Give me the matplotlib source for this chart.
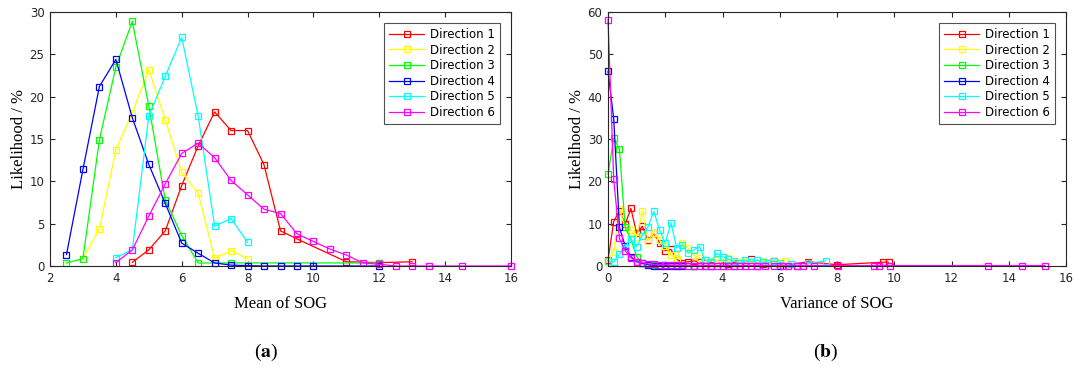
import matplotlib.pyplot as plt

plt.rcParams['mathtext.fontset'] = 'stix'

# (a) Mean of SOG
mean_x = {
    1: [4.5, 5, 5.5, 6, 6.5, 7, 7.5, 8, 8.5, 9, 9.5, 11, 12, 13],
    2: [3, 3.5, 4, 4.5, 5, 5.5, 6, 6.5, 7, 7.5, 8],
    3: [2.5, 3, 3.5, 4, 4.5, 5, 5.5, 6, 6.5, 7.5, 12],
    4: [2.5, 3, 3.5, 4, 4.5, 5, 5.5, 6, 6.5, 7, 7.5, 8, 8.5, 9, 9.5, 10, 12],
    5: [4, 4.5, 5, 5.5, 6, 6.5, 7, 7.5, 8],
    6: [4, 4.5, 5, 5.5, 6, 6.5, 7, 7.5, 8, 8.5, 9, 9.5, 10, 10.5, 11, 11.5, 12, 12.5, 13, 13.5, 14.5, 16],
}
mean_y = {
    1: [0.44, 1.9, 4.15, 9.5, 14.2, 18.2, 16.0, 16.0, 11.95, 4.15, 3.2, 0.5, 0.4, 0.5],
    2: [0.87, 4.35, 13.7, 18.1, 23.2, 17.25, 11.1, 8.6, 0.9, 1.8, 0.87],
    3: [0.36, 0.87, 14.9, 23.5, 28.9, 18.9, 7.8, 3.6, 0.36, 0.36, 0.36],
    4: [1.35, 11.4, 21.2, 24.4, 17.5, 12.0, 7.4, 2.7, 1.5, 0.36, 0.1, 0.05, 0, 0, 0, 0, 0],
    5: [1.0, 1.9, 17.7, 22.4, 27.0, 17.7, 4.7, 5.6, 2.8],
    6: [0.4, 1.9, 5.9, 9.7, 13.3, 14.5, 12.8, 10.1, 8.4, 6.7, 6.2, 3.8, 2.9, 2.0, 1.3, 0.36, 0.2, 0, 0, 0, 0, 0],
}

# (b) Variance of SOG
var_x = {
    1: [0, 0.2, 0.4, 0.6, 0.8, 1.0, 1.2, 1.4, 1.6, 1.8, 2.0, 2.2, 2.4, 2.6, 2.8, 3.0, 3.2, 3.4, 3.6,
        3.8, 4.0, 4.2, 4.4, 4.6, 4.8, 5.0, 5.2, 5.4, 5.6, 5.8, 6.0, 6.4, 7.0, 8.0, 9.6, 9.8],
    2: [0, 0.2, 0.4, 0.6, 0.8, 1.0, 1.2, 1.4, 1.6, 1.8, 2.0, 2.2, 2.4, 2.6, 2.8, 3.0, 3.2, 3.4, 3.6,
        3.8, 4.0, 4.2, 4.4, 4.6, 4.8, 5.0, 5.2, 5.4, 5.6, 5.8, 6.0, 6.2],
    3: [0, 0.2, 0.4, 0.6, 0.8, 1.0, 1.2, 1.4, 1.6, 1.8, 2.0, 2.2, 2.4, 2.6, 2.8, 3.0, 3.4, 4.0],
    4: [0, 0.2, 0.4, 0.6, 0.8, 1.0, 1.2, 1.4, 1.6, 1.8, 2.0, 2.2, 2.4, 2.6, 3.0, 3.6, 4.4, 5.2, 6.0, 6.6],
    5: [0, 0.2, 0.4, 0.6, 0.8, 1.0, 1.2, 1.4, 1.6, 1.8, 2.0, 2.2, 2.4, 2.6, 2.8, 3.0, 3.2, 3.4, 3.6,
        3.8, 4.0, 4.2, 4.4, 4.6, 4.8, 5.0, 5.2, 5.4, 5.6, 5.8, 6.0, 6.4, 7.0, 7.6],
    6: [0, 0.2, 0.4, 0.6, 0.8, 1.0, 1.2, 1.4, 1.6, 1.8, 2.0, 2.2, 2.4, 2.6, 2.8, 3.0, 3.2, 3.4, 3.6,
        3.8, 4.0, 4.2, 4.4, 4.6, 4.8, 5.0, 5.2, 5.5, 5.8, 6.1, 6.3, 6.6, 6.8, 7.2, 8.05, 9.28, 9.45,
        9.86, 13.27, 14.46, 15.27],
}
var_y = {
    1: [1.4, 10.5, 13.1, 9.9, 13.6, 7.7, 9.4, 6.1, 7.7, 5.5, 3.6, 3.9, 1.6, 0.8, 1.0, 1.2, 1.0, 0.6,
        0.8, 0.6, 0.7, 0.5, 0.8, 0.6, 0.9, 1.6, 0.6, 0.5, 0.7, 1.2, 0.5, 0.4, 1.0, 0.3, 0.9, 0.9],
    2: [1.0, 3.4, 13.4, 9.1, 8.5, 6.8, 12.9, 6.0, 7.9, 6.1, 4.7, 2.6, 1.6, 5.4, 4.2, 2.5, 1.8, 1.5,
        1.2, 1.3, 1.0, 1.8, 1.2, 0.9, 1.0, 0.8, 0.7, 1.2, 0.6, 0.8, 0.5, 1.2],
    3: [21.7, 30.2, 27.6, 9.1, 6.3, 2.2, 0.6, 0.3, 0.3, 0.2, 0.2, 0.2, 0.1, 0.2, 0.1, 0.1, 0.1, 0.1],
    4: [46.0, 34.8, 9.1, 4.7, 2.2, 1.0, 0.6, 0.3, 0.1, 0.0, 0.1, 0.0, 0.0, 0.1, 0.1, 0.0, 0.0, 0.0,
        0.0, 0.0],
    5: [1.2, 0.9, 2.8, 4.6, 6.4, 4.6, 7.2, 9.3, 12.9, 8.5, 5.4, 10.2, 4.3, 5.0, 3.0, 3.8, 4.6, 1.3,
        1.0, 3.0, 2.2, 1.6, 1.1, 0.8, 1.3, 1.0, 1.4, 0.9, 0.7, 1.2, 0.7, 0.5, 0.6, 1.2],
    6: [58.2, 20.5, 6.5, 3.6, 2.0, 1.0, 0.8, 0.5, 0.4, 0.3, 0.3, 0.2, 0.2, 0.2, 0.1, 0.1, 0.1, 0.1,
        0.1, 0.1, 0.1, 0.1, 0.1, 0.1, 0.1, 0.1, 0.1, 0.1, 0.1, 0.1, 0.1, 0.1, 0.1, 0.1, 0.1, 0.1,
        0.1, 0.1, 0.1, 0.1, 0.1],
}

colors = {1: '#ff0000', 2: '#ffff00', 3: '#00ff00', 4: '#0000ff', 5: '#00ffff', 6: '#ff00ff'}
labels = {k: f'Direction {k}' for k in colors}

fig = plt.figure(figsize=(10.76, 3.67), dpi=100)
ax1 = fig.add_axes([50/1076, 1-266/367, 461/1076, 254/367])
ax2 = fig.add_axes([608/1076, 1-266/367, 458/1076, 254/367])


def draw(ax, xs, ys, xlim, ylim, xticks, yticks, xlabel):
    for k in colors:
        ax.plot(xs[k], ys[k], color=colors[k], marker='s', markersize=4.8,
                markerfacecolor='none', markeredgewidth=0.9, linewidth=0.9,
                label=labels[k], clip_on=False)
    ax.set_xlim(*xlim)
    ax.set_ylim(*ylim)
    ax.set_xticks(xticks)
    ax.set_yticks(yticks)
    ax.tick_params(direction='in', top=True, right=True, labelsize=8.5,
                   length=3.5, width=0.8, colors='#262626', pad=4)
    for s in ax.spines.values():
        s.set_color('#262626')
        s.set_linewidth(0.8)
    ax.set_xlabel(xlabel, family='Liberation Serif', fontsize=12, labelpad=8)
    ax.set_ylabel('Likelihood / %', family='Liberation Serif', fontsize=12, labelpad=2)
    leg = ax.legend(loc='upper right', fontsize=8.5, frameon=True, fancybox=False,
                    handlelength=3.0, borderaxespad=0.9, labelspacing=0.22,
                    borderpad=0.45, handletextpad=0.5)
    leg.get_frame().set_edgecolor('#262626')
    leg.get_frame().set_linewidth(0.8)


draw(ax1, mean_x, mean_y, (2, 16), (0, 30), range(2, 17, 2), range(0, 31, 5), 'Mean of SOG')
draw(ax2, var_x, var_y, (0, 16), (0, 60), range(0, 17, 2), range(0, 61, 10), 'Variance of SOG')

fig.text(266/1076, 1-352/367, r'($\mathbf{a}$)', ha='center', va='center',
         family='Liberation Serif', fontsize=14)
fig.text(826/1076, 1-352/367, r'($\mathbf{b}$)', ha='center', va='center',
         family='Liberation Serif', fontsize=14)

plt.savefig('out.png', dpi=100)
